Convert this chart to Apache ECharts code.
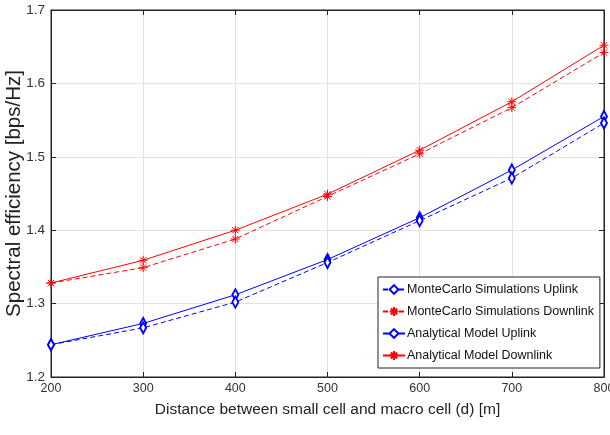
<!DOCTYPE html>
<html>
<head>
<meta charset="utf-8">
<script src="https://cdn.jsdelivr.net/npm/echarts@6/dist/echarts.min.js"></script>
<style>
  html, body { margin: 0; padding: 0; background: #fff; }
  #main { width: 610px; height: 435px; }
</style>
</head>
<body>
<div id="main"></div>
<script>
// distance d [m]
const distances = [200, 300, 400, 500, 600, 700, 800];
// spectral efficiency [bps/Hz]
const mcUplink = [1.244, 1.267, 1.302, 1.356, 1.413, 1.471, 1.546];
const mcDownlink = [1.328, 1.349, 1.388, 1.446, 1.504, 1.567, 1.642];
const anUplink = [1.244, 1.273, 1.312, 1.360, 1.417, 1.482, 1.555];
const anDownlink = [1.328, 1.359, 1.400, 1.449, 1.509, 1.575, 1.652];

const seriesNames = [
  'MonteCarlo Simulations Uplink',
  'MonteCarlo Simulations Downlink',
  'Analytical Model Uplink',
  'Analytical Model Downlink'
];

// asterisk marker like matlab '*'
const star = 'path://M5,0L5,10M0,5L10,5M1.5,1.5L8.5,8.5M1.5,8.5L8.5,1.5';
const font = 'Liberation Sans';

function pairs(ys) {
  return distances.map((x, i) => [x, ys[i]]);
}

function mk(name, ys, color, dashed, marker) {
  const isStar = marker === 'star';
  return {
    name: name,
    type: 'line',
    data: pairs(ys),
    symbol: isStar ? star : 'emptyDiamond',
    symbolSize: isStar ? 9 : [6, 11],
    showAllSymbol: true,
    lineStyle: { color: color, width: 1, type: dashed ? [5, 3] : 'solid' },
    itemStyle: { color: color, borderColor: color, borderWidth: 1 },
    emphasis: { disabled: true },
    z: dashed ? 3 : 2
  };
}

const chart = echarts.init(document.getElementById('main'));
chart.setOption({
  animation: false,
  grid: {
    left: 51, right: 6, top: 10, bottom: 58,
    outerBoundsMode: 'none',
    show: true, borderColor: '#222', borderWidth: 1
  },
  legend: {
    orient: 'vertical',
    left: 378,
    top: 277,
    width: 226,
    padding: [6, 6, 6, 4],
    itemGap: 9,
    itemWidth: 22,
    itemHeight: 11,
    backgroundColor: '#fff',
    borderColor: '#222',
    borderWidth: 1,
    borderRadius: 0,
    textStyle: { fontFamily: font, fontSize: 12.5, color: '#111', padding: [0, 0, 0, -3] },
    data: seriesNames
  },
  xAxis: [{
    type: 'value',
    min: 200, max: 800, interval: 100,
    name: 'Distance between small cell and macro cell (d) [m]',
    nameLocation: 'middle',
    nameGap: 25,
    nameTextStyle: { fontFamily: font, fontSize: 15.5, color: '#222' },
    axisLine: { show: true, lineStyle: { color: '#222' } },
    axisTick: { inside: true, length: 5, lineStyle: { color: '#222' } },
    axisLabel: { fontFamily: font, fontSize: 12.5, color: '#333', margin: 5 },
    splitLine: { show: true, lineStyle: { color: '#e3e3e3' } }
  }, {
    type: 'value', position: 'top',
    min: 200, max: 800, interval: 100,
    axisLine: { show: true, lineStyle: { color: '#222' } },
    axisTick: { inside: true, length: 5, lineStyle: { color: '#222' } },
    axisLabel: { show: false },
    splitLine: { show: false }
  }],
  yAxis: [{
    type: 'value',
    min: 1.2, max: 1.7, interval: 0.1,
    name: 'Spectral efficiency [bps/Hz]',
    nameLocation: 'middle',
    nameMoveOverlap: false,
    nameGap: 26,
    nameTextStyle: { fontFamily: font, fontSize: 20.5, color: '#222' },
    axisLine: { show: true, lineStyle: { color: '#222' } },
    axisTick: { inside: true, length: 5, lineStyle: { color: '#222' } },
    axisLabel: { fontFamily: font, fontSize: 13.5, color: '#333', margin: 6, formatter: v => v.toFixed(1) },
    splitLine: { show: true, lineStyle: { color: '#e3e3e3' } }
  }, {
    type: 'value', position: 'right',
    min: 1.2, max: 1.7, interval: 0.1,
    axisLine: { show: true, lineStyle: { color: '#222' } },
    axisTick: { inside: true, length: 5, lineStyle: { color: '#222' } },
    axisLabel: { show: false },
    splitLine: { show: false }
  }],
  series: [
    mk(seriesNames[0], mcUplink, '#0000ff', true, 'diamond'),
    mk(seriesNames[1], mcDownlink, '#ff0000', true, 'star'),
    mk(seriesNames[2], anUplink, '#0000ff', false, 'diamond'),
    mk(seriesNames[3], anDownlink, '#ff0000', false, 'star')
  ]
});
</script>
</body>
</html>
